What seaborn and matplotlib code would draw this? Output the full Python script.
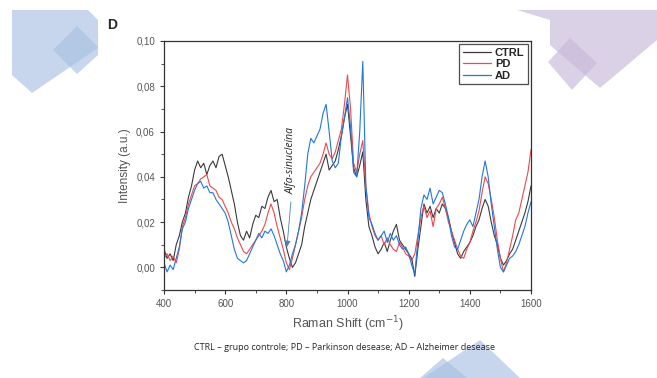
import numpy as np
import pandas as pd
import matplotlib
matplotlib.use("Agg")
import matplotlib.pyplot as plt
from matplotlib.patches import Polygon
import matplotlib.ticker as mticker
import seaborn as sns

# Raman shift grid (cm-1)
shift = list(range(400, 1601, 10))

ctrl = [0.008, 0.004, 0.006, 0.003, 0.010, 0.014, 0.020, 0.024, 0.031, 0.036,
        0.043, 0.047, 0.044, 0.046, 0.041, 0.045, 0.047, 0.044, 0.049, 0.050,
        0.045, 0.040, 0.034, 0.028, 0.020, 0.014, 0.012, 0.016, 0.013, 0.019,
        0.023, 0.022, 0.027, 0.026, 0.031, 0.034, 0.029, 0.030, 0.022, 0.016,
        0.009, 0.004, 0.000, 0.002, 0.006, 0.010, 0.018, 0.024, 0.030, 0.034,
        0.038, 0.042, 0.046, 0.050, 0.043, 0.045, 0.047, 0.052, 0.058, 0.066,
        0.072, 0.058, 0.044, 0.040, 0.045, 0.051, 0.030, 0.018, 0.014, 0.009,
        0.006, 0.008, 0.011, 0.007, 0.012, 0.016, 0.019, 0.012, 0.010, 0.008,
        0.006, 0.004, -0.004, 0.008, 0.018, 0.028, 0.024, 0.027, 0.022, 0.026,
        0.024, 0.028, 0.026, 0.022, 0.016, 0.011, 0.006, 0.004, 0.007, 0.009,
        0.011, 0.014, 0.018, 0.021, 0.026, 0.030, 0.027, 0.020, 0.014, 0.010,
        0.004, 0.001, 0.003, 0.006, 0.008, 0.012, 0.016, 0.020, 0.024, 0.029,
        0.036]

pd_vals = [0.004, 0.006, 0.003, 0.005, 0.002, 0.008, 0.018, 0.022, 0.028, 0.032,
           0.036, 0.037, 0.039, 0.040, 0.041, 0.036, 0.035, 0.034, 0.031, 0.030,
           0.027, 0.024, 0.020, 0.017, 0.013, 0.010, 0.007, 0.006, 0.008, 0.010,
           0.012, 0.014, 0.016, 0.019, 0.024, 0.028, 0.024, 0.018, 0.013, 0.008,
           0.002, -0.001, 0.004, 0.010, 0.016, 0.022, 0.030, 0.036, 0.040, 0.042,
           0.044, 0.046, 0.050, 0.055, 0.050, 0.048, 0.051, 0.056, 0.061, 0.072,
           0.085, 0.070, 0.046, 0.042, 0.050, 0.056, 0.036, 0.024, 0.018, 0.014,
           0.012, 0.014, 0.010, 0.013, 0.010, 0.008, 0.007, 0.011, 0.009, 0.006,
           0.005, 0.003, 0.006, 0.014, 0.022, 0.027, 0.022, 0.025, 0.018, 0.026,
           0.028, 0.031, 0.026, 0.020, 0.016, 0.012, 0.008, 0.005, 0.004, 0.008,
           0.011, 0.016, 0.020, 0.025, 0.033, 0.040, 0.037, 0.030, 0.022, 0.012,
           0.004, -0.002, 0.002, 0.008, 0.014, 0.021, 0.024, 0.030, 0.036, 0.042,
           0.052]

ad = [0.002, -0.002, 0.001, -0.001, 0.004, 0.009, 0.017, 0.020, 0.026, 0.030,
      0.034, 0.037, 0.038, 0.035, 0.036, 0.033, 0.033, 0.030, 0.028, 0.026,
      0.024, 0.020, 0.014, 0.008, 0.004, 0.003, 0.002, 0.003, 0.006, 0.009,
      0.012, 0.015, 0.013, 0.016, 0.015, 0.017, 0.014, 0.010, 0.006, 0.003,
      -0.002, 0.001, 0.006, 0.010, 0.016, 0.024, 0.036, 0.050, 0.057, 0.055,
      0.058, 0.061, 0.068, 0.072, 0.060, 0.047, 0.044, 0.046, 0.058, 0.066,
      0.075, 0.062, 0.042, 0.040, 0.060, 0.091, 0.036, 0.022, 0.019, 0.015,
      0.012, 0.014, 0.016, 0.011, 0.015, 0.012, 0.014, 0.010, 0.008, 0.009,
      0.006, 0.001, -0.003, 0.012, 0.026, 0.032, 0.030, 0.035, 0.028, 0.031,
      0.034, 0.033, 0.028, 0.022, 0.014, 0.009, 0.008, 0.012, 0.016, 0.019,
      0.021, 0.018, 0.024, 0.030, 0.040, 0.047, 0.040, 0.028, 0.018, 0.008,
      0.000, -0.002, 0.001, 0.004, 0.005, 0.007, 0.010, 0.014, 0.018, 0.024,
      0.029]

groups = ["CTRL", "PD", "AD"]
colors = {"CTRL": "#3a3a3a", "PD": "#f0474c", "AD": "#2277dd"}

df = pd.concat([
    pd.DataFrame({"shift": shift, "intensity": vals, "group": g})
    for g, vals in zip(groups, [ctrl, pd_vals, ad])
])

sns.set_style("white")
plt.rcParams["font.family"] = ["Liberation Sans", "DejaVu Sans"]

fig = plt.figure(figsize=(6.57, 3.78), dpi=100)

# decorative slide shapes (figure pixel coords, y from top)
def shape(pts, color, alpha):
    p = Polygon([(x / 657, 1 - y / 378) for x, y in pts], closed=True,
                transform=fig.transFigure, facecolor=color, alpha=alpha,
                edgecolor="none", zorder=0)
    fig.patches.append(p)

shape([(12, 10), (88, 10), (98, 20), (98, 48), (32, 93), (12, 75)], "#a9c1e2", 0.65)
shape([(77, 26), (98, 47), (98, 55), (77, 74), (53, 50)], "#a9c1e2", 0.65)
shape([(517, 10), (657, 10), (657, 40), (600, 88), (550, 45), (550, 20)], "#c8b9da", 0.65)
shape([(570, 38), (597, 63), (572, 90), (548, 62)], "#c8b9da", 0.65)
shape([(480, 340), (520, 378), (423, 378)], "#a9c1e2", 0.65)
shape([(443, 358), (467, 378), (420, 378)], "#a9c1e2", 0.65)

ax = fig.add_axes([164 / 657, 1 - 290 / 378, 367 / 657, 249 / 378])
ax.patch.set_alpha(0)
sns.lineplot(data=df, x="shift", y="intensity", hue="group", hue_order=groups,
             palette=colors, linewidth=0.8, ax=ax)

ax.set_xlim(400, 1600)
ax.set_ylim(-0.01, 0.10)
ax.set_xticks([400, 600, 800, 1000, 1200, 1400, 1600])
ax.xaxis.set_minor_locator(mticker.MultipleLocator(100))
ax.set_yticks([0.00, 0.02, 0.04, 0.06, 0.08, 0.10])
ax.yaxis.set_minor_locator(mticker.MultipleLocator(0.01))
ax.yaxis.set_major_formatter(mticker.FuncFormatter(lambda v, p: f"{v:.2f}".replace(".", ",")))
ax.tick_params(which="major", direction="out", length=3, width=0.8, colors="#333333",
               labelsize=7, labelcolor="#555555", bottom=True, left=True)
ax.tick_params(which="minor", direction="out", length=2, width=0.6, colors="#333333",
               bottom=True, left=True)
for s in ax.spines.values():
    s.set_color("#333333")
    s.set_linewidth(0.9)

ax.set_xlabel("Raman Shift (cm$^{-1}$)", fontsize=9, color="#555555", labelpad=4)
ax.set_ylabel("Intensity (a.u.)", fontsize=8.5, color="#555555", labelpad=4)

leg = ax.legend(loc="upper right", frameon=True, fancybox=False, fontsize=8,
                handlelength=2.6, borderpad=0.3, labelspacing=0.15,
                handletextpad=0.3, borderaxespad=0.3)
leg.get_frame().set_edgecolor("#222222")
leg.get_frame().set_linewidth(0.9)
for t in leg.get_texts():
    t.set_fontweight("bold")
for h in leg.get_lines():
    h.set_linewidth(0.9)

ax.text(815, 0.047, "Alfa-sinucleína", rotation=90, fontsize=7.5, style="italic",
        ha="center", va="center", family=["Open Sans", "DejaVu Sans"])
ax.annotate("", xy=(802, 0.009), xytext=(815, 0.029), zorder=6,
            arrowprops=dict(arrowstyle="-|>", color="#4a7fc0", lw=0.6,
                            mutation_scale=9, shrinkA=0, shrinkB=0))

fig.text(112 / 657, 1 - 25 / 378, "D", fontsize=10, fontweight="bold", ha="center", va="center")
fig.text(345 / 657, 1 - 348 / 378,
         "CTRL – grupo controle; PD – Parkinson desease; AD – Alzheimer desease",
         fontsize=6.5, ha="center", va="center", family=["Open Sans", "DejaVu Sans"])

fig.savefig("out.png", dpi=100)
